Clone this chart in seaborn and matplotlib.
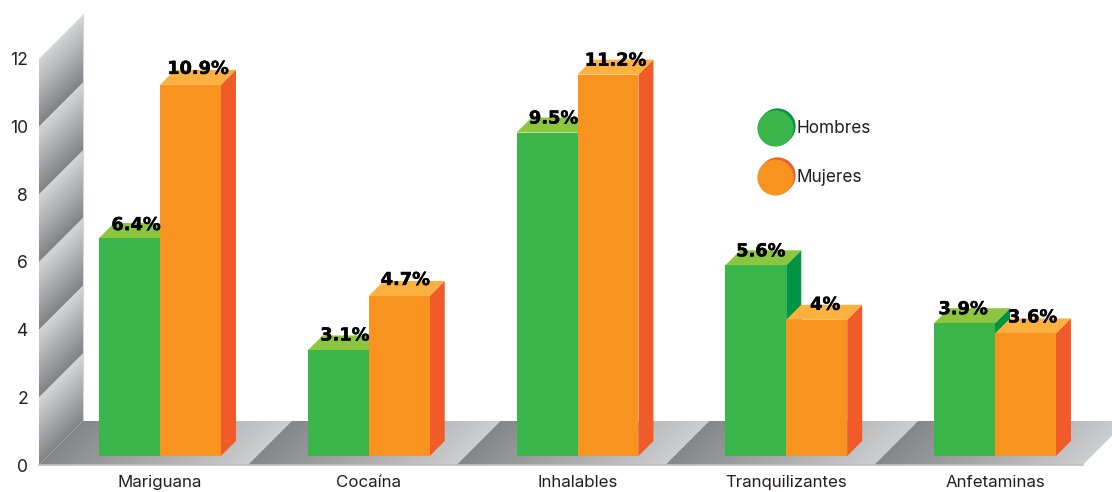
import numpy as np
import pandas as pd
import matplotlib
matplotlib.use("Agg")
import matplotlib.pyplot as plt
import matplotlib.patheffects as pe
from matplotlib.patches import Polygon
import seaborn as sns

categories = ["Mariguana", "Cocaína", "Inhalables", "Tranquilizantes", "Anfetaminas"]
hombres = [6.4, 3.1, 9.5, 5.6, 3.9]
mujeres = [10.9, 4.7, 11.2, 4.0, 3.6]
hombres_labels = ["6.4%", "3.1%", "9.5%", "5.6%", "3.9%"]
mujeres_labels = ["10.9%", "4.7%", "11.2%", "4%", "3.6%"]
y_ticks = [0, 2, 4, 6, 8, 10, 12]
series_names = ["Hombres", "Mujeres"]

FRONT = {"Hombres": "#39B54A", "Mujeres": "#F7931E"}
TOP = {"Hombres": "#8CC63F", "Mujeres": "#FBB040"}
SIDE = {"Hombres": "#009444", "Mujeres": "#F15A29"}

# layout (pixels of the 1112x492 canvas)
W, H = 1112, 492
STEP, CX0, BASE, UNIT = 208.75, 160.0, 456.0, 34.05
DEPTH = 15
def X(px): return (px - CX0) / STEP
def Y(py): return (BASE - py) / UNIT

sns.set_theme(style="white")
plt.rcParams["font.family"] = ["Inter", "DejaVu Sans"]

fig = plt.figure(figsize=(W / 100, H / 100), dpi=100)
ax = fig.add_axes([39 / W, (H - 465) / H, (W - 39) / W, 465 / H])

df = pd.DataFrame({
    "cat": categories * 2,
    "serie": ["Hombres"] * 5 + ["Mujeres"] * 5,
    "valor": hombres + mujeres,
})
sns.barplot(data=df, x="cat", y="valor", hue="serie", order=categories, hue_order=series_names,
            palette=FRONT, width=0.584, gap=0, saturation=1, legend=False, ax=ax, linewidth=0)


def gradient(poly_px, tfun, dark, light, z):
    xs = [p[0] for p in poly_px]; ys = [p[1] for p in poly_px]
    x0, x1, y0, y1 = int(min(xs)), int(max(xs)) + 1, int(min(ys)), int(max(ys)) + 1
    gx, gy = np.meshgrid(np.arange(x0, x1) + .5, np.arange(y0, y1) + .5)
    t = np.clip(tfun(gx, gy), 0, 1)[..., None]
    d, l = np.array(matplotlib.colors.to_rgb(dark)), np.array(matplotlib.colors.to_rgb(light))
    im = ax.imshow(l * (1 - t) + d * t, extent=(X(x0), X(x1), Y(y1), Y(y0)), aspect="auto",
                   origin="upper", zorder=z, interpolation="bilinear")
    patch = Polygon([(X(a), Y(b)) for a, b in poly_px], closed=True, transform=ax.transData,
                    fc="none", ec="none")
    ax.add_patch(patch)
    im.set_clip_path(patch)


# wall bands, one per pair of tick steps
WALL_L, WALL_D, TICK0, TICKU = 39, 44, 465.0, 33.85
for k in y_ticks[:-1]:
    bot = TICK0 - TICKU * k
    top = bot - TICKU * 2
    poly = [(WALL_L, top), (WALL_L + WALL_D, top - WALL_D), (WALL_L + WALL_D, bot - WALL_D), (WALL_L, bot)]
    gradient(poly, lambda gx, gy, top=top: (gy - (top - (gx - WALL_L))) / (TICKU * 2),
             "#808285", "#D6D7D9", 0.5)
ax.plot([X(83.3)] * 2, [Y(14), Y(421)], color="#D4D5D7", lw=0.8, zorder=0.6, clip_on=False)

# floor segments, one per category
FL_BACK, FL_FRONT, FL_D = 421, 465, 44
for i in range(len(categories)):
    x0 = 39 + STEP * i
    poly = [(x0, FL_FRONT), (x0 + FL_D, FL_BACK), (x0 + FL_D + STEP, FL_BACK), (x0 + STEP, FL_FRONT)]
    gradient(poly, lambda gx, gy, x0=x0: 1 - (gx - (x0 + (FL_FRONT - gy))) / STEP,
             "#858689", "#CDCECF", 1)
ax.plot([X(39), X(39 + STEP * 5)], [Y(464.5)] * 2, color="#BCBEC0", lw=1.2, zorder=1.1, clip_on=False)

# 3-D faces derived from the bars seaborn drew
dx, dy = DEPTH / STEP, DEPTH / UNIT
for n, (name, cont) in enumerate(zip(series_names, ax.containers)):
    z = 3 + 2 * n
    for bar in cont:
        bar.set_zorder(z + 1)
        x, w, h = bar.get_x(), bar.get_width(), bar.get_height()
        ax.add_patch(Polygon([(x + w, 0), (x + w + dx, dy), (x + w + dx, h + dy), (x + w, h)],
                             fc=SIDE[name], ec="none", zorder=z))
        ax.add_patch(Polygon([(x, h), (x + dx, h + dy), (x + w + dx, h + dy), (x + w, h)],
                             fc=TOP[name], ec="none", zorder=z))

# value labels: pixel nudges from the bar-top centre
NUDGE_H = [(6.5, 13), (6.5, 15), (6.5, 14), (5, 14), (-1.5, 14)]
NUDGE_M = [(7.5, 16), (6, 16), (7.5, 14), (8.5, 15), (7, 16)]
for cont, labels, nudges in zip(ax.containers, [hombres_labels, mujeres_labels], [NUDGE_H, NUDGE_M]):
    for bar, lab, (nx, ny) in zip(cont, labels, nudges):
        ax.annotate(lab, (bar.get_x() + bar.get_width() / 2, bar.get_height()),
                    xytext=(nx * 0.72, ny * 0.72), textcoords="offset points",
                    ha="center", va="center", fontsize=12.8, fontweight="black",
                    color="black", zorder=9, family=["DejaVu Sans"],
                    path_effects=[pe.withStroke(linewidth=0.35, foreground="black")])

# legend
for name, cy in zip(series_names, [128, 177]):
    ax.scatter([X(777)], [Y(cy - 2)], s=680, color=SIDE[name], linewidths=0, zorder=3, clip_on=False)
    ax.scatter([X(775)], [Y(cy)], s=680, color=FRONT[name], linewidths=0, zorder=4, clip_on=False)
    ax.text(X(797), Y(cy + 0.5), name, ha="left", va="center", fontsize=12.4, color="#231F20")

ax.set_xlim(X(39), X(W))
ax.set_ylim(Y(465), Y(0))
ax.set_xlabel(""); ax.set_ylabel("")
ax.set_xticks(range(len(categories)))
ax.set_xticklabels(categories, fontsize=12.2, color="#231F20")
ax.set_yticks([Y(TICK0 - TICKU * t) for t in y_ticks])
ax.set_yticklabels([str(t) for t in y_ticks], fontsize=12.6, color="#231F20")
ax.tick_params(axis="y", length=0, pad=8)
ax.tick_params(axis="x", length=0, pad=7)
sns.despine(ax=ax, left=True, bottom=True)
fig.savefig("out.png", dpi=100, facecolor="white")
